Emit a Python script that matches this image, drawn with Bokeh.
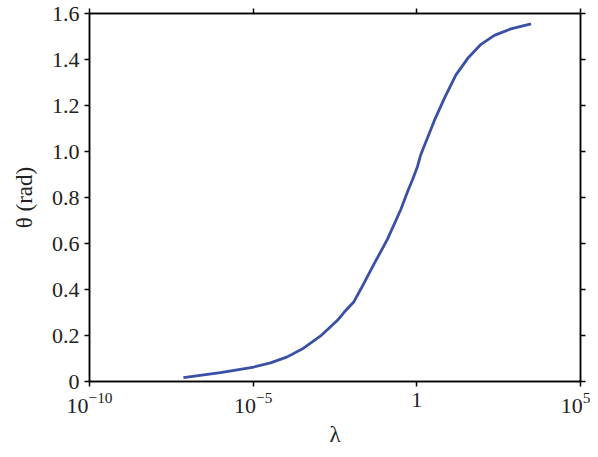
from bokeh.plotting import figure
from bokeh.models import Range1d, FixedTicker, CustomJSTickFormatter, LogAxis, LinearAxis
from bokeh.embed import file_html
from bokeh.resources import INLINE

# data
lam = [7.4e-8, 1.0e-6, 1.05e-5, 3.4e-5, 1.1e-4, 3.55e-4, 1.15e-3, 3.7e-3,
       6.0e-3, 1.2e-2, 1.95e-2, 4.9e-2, 0.126, 0.324, 0.519, 0.741, 1.05,
       1.32, 3.39, 6.92, 15.5, 35.5, 91.2, 234.0, 741.0, 3090.0]
theta = [0.017, 0.039, 0.063, 0.081, 0.107, 0.146, 0.198, 0.265,
         0.301, 0.347, 0.402, 0.510, 0.618, 0.748, 0.825, 0.878, 0.935,
         0.986, 1.133, 1.231, 1.332, 1.404, 1.466, 1.505, 1.533, 1.555]

x_ticks = [1e-10, 1e-5, 1, 1e5]
y_ticks = [0, 0.2, 0.4, 0.6, 0.8, 1.0, 1.2, 1.4, 1.6]

FONT = "Times New Roman"

p = figure(width=590, height=449, x_axis_type="log",
           x_range=Range1d(1e-10, 1e5), y_range=Range1d(0, 1.6),
           output_backend="svg", toolbar_location=None,
           min_border_left=89, min_border_right=10, min_border_top=13, min_border_bottom=66)
p.grid.visible = False
p.outline_line_color = "black"
p.outline_line_width = 1.5

p.line(lam, theta, line_color="#3a4fa6", line_width=2.8)

def style(ax):
    ax.axis_line_color = "black"
    ax.axis_line_width = 1.5
    ax.major_tick_line_color = "black"
    ax.major_tick_line_width = 1.5
    ax.major_tick_out = 5
    ax.major_tick_in = 0
    ax.minor_tick_line_color = None
    ax.major_label_text_font = FONT
    ax.major_label_text_font_size = "22px"
    ax.major_label_text_color = "#222222"
    ax.axis_label_text_font = FONT
    ax.axis_label_text_font_size = "23px"
    ax.axis_label_text_font_style = "normal"
    ax.axis_label_text_color = "#222222"

def hide_labels(ax):
    ax.major_label_text_font_size = "2px"
    ax.major_label_text_alpha = 0
    ax.major_label_standoff = 0

xa = p.xaxis[0]
xa.ticker = FixedTicker(ticks=x_ticks)
xa.major_label_overrides = {1: "1"}
xa.axis_label = "\u03bb"
xa.major_label_standoff = 6
xa.axis_label_standoff = 6
style(xa)

ya = p.yaxis[0]
ya.ticker = FixedTicker(ticks=y_ticks)
ya.formatter = CustomJSTickFormatter(code="return tick == 0 ? '0' : tick.toFixed(1);")
ya.axis_label = "\u03b8 (rad)"
ya.major_label_standoff = 5
ya.axis_label_standoff = 12
style(ya)

top = LogAxis(ticker=FixedTicker(ticks=x_ticks))
style(top)
hide_labels(top)
p.add_layout(top, "above")

right = LinearAxis(ticker=FixedTicker(ticks=y_ticks))
style(right)
hide_labels(right)
p.add_layout(right, "right")

open("out.html", "w").write(file_html(p, INLINE))
